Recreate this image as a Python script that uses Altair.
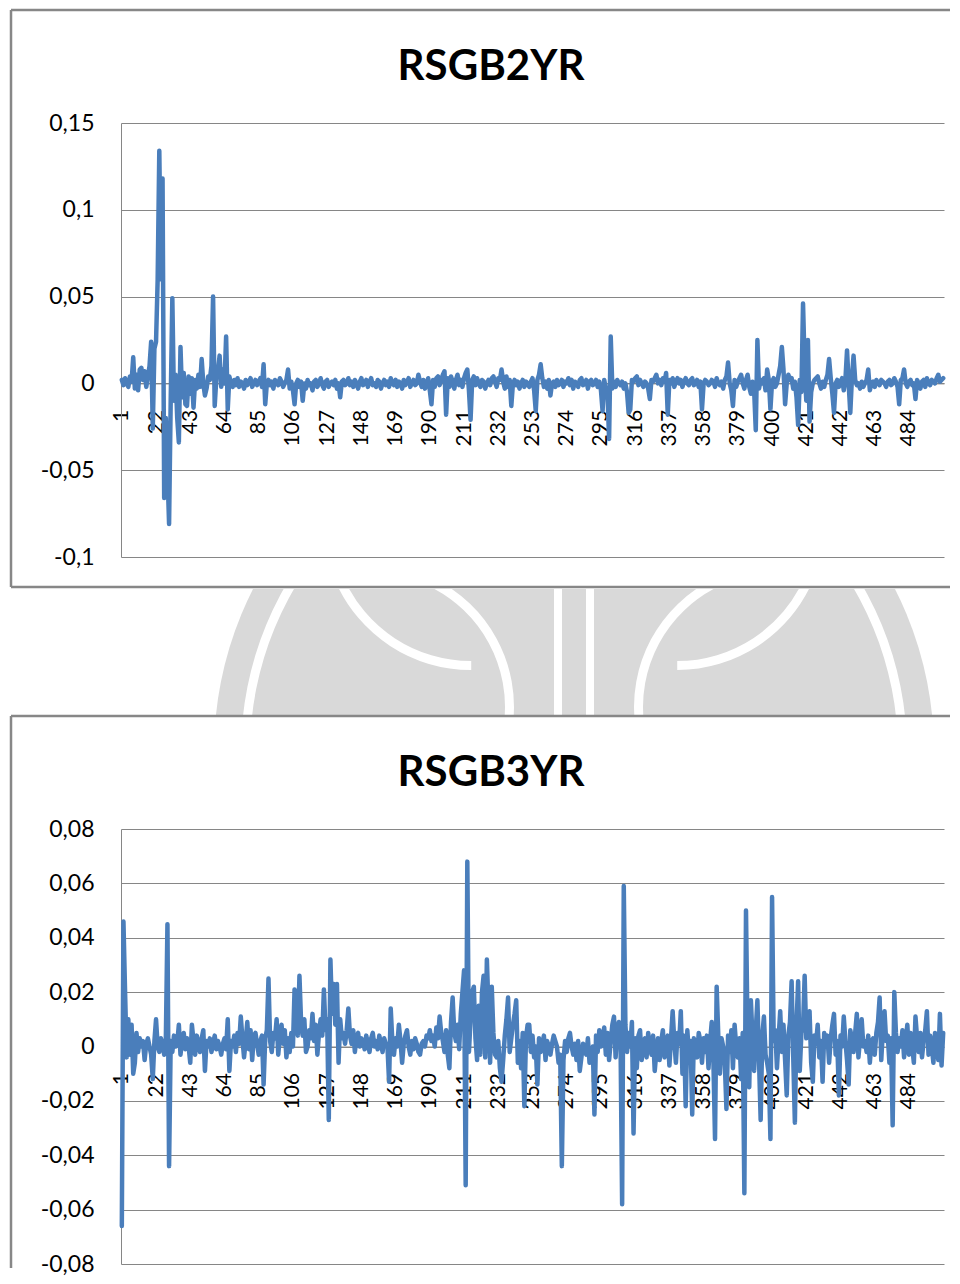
import altair as alt
import pandas as pd

# ---------------- data (values in thousandths) ----------------
RSGB2YR_A = [
    2, -1, 3, 0, -2, 4, 1, 15, -3, 5,
    -4, 8, 9, 2, 7, -2, 4, 10, 24, -26,
    20, 24, 60, 134, 60, 118, -66, -20, -50, -81,
    -10, 49, -10, 5, -20, -34, 21, -8, 6, -12,
    -13, 4, -6, 3, -14, 2, -3, 5, -2, 14,
    0, -7, -3, 4, 2, 10, 50, -13, 3, 7,
    16, -2, 8, 0, 27, -15, 4, 0, -2, 2,
    -1, 3, -2, 1, 0, -3, 2, -1, 1, 3,
    -2, 0, 2, -1, 1, 3, -2, 11, -12, 0,
    2, -1, 1, -3, 2, 0, -1, 3, 1, -2,
]
RSGB2YR_B = [
    0, 2, 8, -3, 1, -4, -12, 0, 2, -2,
    1, -10, 0, -3, 2, -1, 0, -4, 1, 2,
    -2, 0, 3, -1, -3, 1, 2, -2, 0, 1,
    -1, 2, -3, 0, -8, 1, 2, -1, 0, 3,
    -1, 1, -2, 2, 0, -3, 1, 3, -1, 0,
    2, -2, 1, 3, -1, 0, -2, 2, 1, -3,
    0, 2, -1, 1, -2, 3, 0, -1, 2, -2,
    1, 0, -3, 2, -1, 1, 3, -2, 0, 2,
    -1, 0, 5, 1, -2, 2, -3, 0, 3, -4,
    -12, 2, -2, 3, 4, -1, 2, 5, 7, -18,
]
RSGB2YR_C = [
    3, -2, 4, 1, -3, 2, 5, -1, 2, -2,
    3, 6, 8, -4, -21, 2, 4, -1, 3, 0,
    -2, 2, 1, -3, 0, 2, -1, 3, 4, 1,
    -2, 3, 2, 8, 1, -3, 4, -2, 2, -13,
    0, 2, -1, 1, -3, 0, 2, -2, 1, 0,
    -2, 1, 3, -4, -16, 2, 5, 11, 3, -2,
    1, -3, 2, -7, 0, 1, -2, 2, -1, 0,
    2, -2, 1, 0, 3, -1, 2, -3, 1, 0,
    -2, 2, 3, -1, 0, 2, -3, 1, 2, -1,
    0, 2, -2, 1, -4, -16, 2, -3, -5, -32,
]
RSGB2YR_D = [
    27, -3, 1, -2, 2, 0, -1, 1, -3, 0,
    -5, -17, -15, 2, 1, 3, 4, -1, 2, 0,
    -2, 1, 0, -3, -9, 2, 1, 3, 5, 0,
    2, -1, 3, 1, 6, -18, 2, 0, 3, -2,
    1, 3, 0, 2, -2, 1, 3, 0, -1, 2,
    3, -1, 0, 2, -2, 1, -15, 0, 2, 1,
    -1, 0, 2, 1, -2, 3, 0, -1, 1, -3,
    2, 4, 12, 0, -4, -13, 2, -2, 1, 3,
    5, 0, -3, 2, 5, -2, -6, 1, -4, -27,
    25, -3, 2, 0, 3, -4, 8, 2, -15, 1,
]
RSGB2YR_E = [
    3, -2, 0, 5, 10, 21, 8, -12, 0, 5,
    2, 3, -3, 1, -8, -24, 2, -5, 46, 10,
    -10, 25, -22, -5, 0, 2, 3, 4, 0, -3,
    1, -2, 2, 5, 14, 3, -6, -17, 0, 2,
    -2, 1, 3, -4, 2, 19, 0, -17, 3, 16,
    2, -1, 0, -3, 1, -2, 0, 2, 8, -4,
    0, 1, -2, 2, 0, -1, 2, 1, 0, -2,
    1, 2, -1, 0, 3, 1, -2, -12, 2, 3,
    8, 0, -2, 1, 2, -1, 0, -9, 2, 0,
    -3, 1, 2, -2, 3, 0, -1, 2, 1, 0,
    3, 5, 1, 2, 3,
]

RSGB3YR_A = [
    -66, 46, 20, -4, 10, -3, 8, -10, -6, 5,
    -2, 3, 0, 2, -5, 1, 3, 0, -3, -12,
    2, 10, 0, -2, 3, 1, -3, 2, 45, -44,
    2, -2, 4, 0, 1, 8, -3, 2, 5, -1,
    3, 0, -6, 8, 2, -3, 4, 1, -2, 3,
    6, -9, 2, 0, 3, -2, 1, 4, -1, 2,
    0, -3, 1, 3, -1, 10, -9, 2, 0, 4,
    -2, 5, 1, 11, 3, -4, 2, 9, -1, 6,
    -5, 4, 5, 1, -3, 2, 4, -14, 3, 6,
    25, 2, -2, 5, 3, 10, -3, 4, 8, 1,
]
RSGB3YR_B = [
    6, -4, 3, -2, 5, 0, 21, 12, 4, 26,
    9, 4, 10, -2, 0, 6, 3, 12, 2, 8,
    -3, 5, 10, 4, 21, 6, 10, -27, 32, 12,
    23, 8, 23, -6, 10, 3, 5, 1, 6, 14,
    4, 1, 6, -2, 3, 5, 0, 3, 2, -1,
    4, 1, -2, 3, 5, 0, 2, -1, 4, 1,
    -2, 3, 1, 0, -13, 14, 2, -3, 3, 0,
    8, 2, -6, 1, 4, 6, 0, -3, 2, -1,
    3, 1, -2, -3, 1, 2, 0, 4, 3, 6,
    2, 4, 0, 7, 3, 11, 5, 2, -2, 6,
]
RSGB3YR_C = [
    -3, -8, 9, 18, 5, 2, 8, -1, 12, 20,
    28, -51, 68, -2, 10, 20, 22, 3, -5, 15,
    -3, 20, 26, -4, 32, 14, -6, 22, 5, -3,
    -4, 2, -8, -13, -5, 4, 10, 18, -2, 3,
    8, 12, 17, -6, 2, -8, 5, -22, 3, 8,
    8, -2, 4, -4, 0, -14, 3, -2, 1, 4,
    -5, 2, 0, -3, 1, 4, 2, 0, -6, -3,
    -44, -5, 2, -2, 3, 5, 0, -3, 1, -5,
    2, -9, -4, 1, -2, -3, 3, -6, -4, 0,
    -25, 4, -2, 6, 0, 3, 7, -3, 5, -5,
]
RSGB3YR_D = [
    2, 8, 11, -4, 6, 9, 3, -58, 59, 8,
    -2, 5, 0, 9, -32, 3, -8, 4, 6, -5,
    2, 3, -4, 5, 0, -3, 4, -9, -2, 3,
    -5, 2, 6, -4, 0, 4, -7, 3, 13, 2,
    -6, 5, 1, 13, -10, 4, -22, 6, -3, 2,
    -25, 3, 0, -4, 5, 2, -6, 3, -2, 4,
    -8, 2, 9, -5, -34, 22, 4, -10, 3, 0,
    -6, -23, 4, -2, 6, -8, 8, 0, -4, 3,
    -12, 5, -54, 50, 2, -15, 17, 3, -9, 6,
    17, -5, -27, 4, 11, -3, -6, -10, -34, 55,
]
RSGB3YR_E = [
    2, 6, -8, 3, 13, -2, 8, -5, -18, 4,
    9, 24, -4, -28, 8, 24, -9, 5, 7, 26,
    3, 10, 13, -6, -13, 4, 1, 8, -4, 2,
    -13, 5, 0, 4, -6, 3, 8, 12, -3, 2,
    -18, 4, 0, 11, 2, -5, -14, 6, 3, -2,
    5, 12, -4, 3, 10, 0, 2, -2, 4, -6,
    2, 3, -3, 5, 9, 18, -5, 6, 13, 2,
    4, -6, 3, -29, 20, 5, -2, 3, 0, 6,
    -4, 2, 8, -3, 5, 0, -6, 11, 3, -2,
    5, -4, 2, 6, 13, -3, 4, 0, -6, 5,
    2, -5, 12, -7, 5,
]

X_TICKS = [1, 22, 43, 64, 85, 106, 127, 148, 169, 190, 211, 232,
           253, 274, 295, 316, 337, 358, 379, 400, 421, 442, 463, 484]
Y_TICKS_2YR = [-0.1, -0.05, 0, 0.05, 0.1, 0.15]
Y_TICKS_3YR = [-0.08, -0.06, -0.04, -0.02, 0, 0.02, 0.04, 0.06, 0.08]

TITLES = ["RSGB2YR", "RSGB3YR"]

# ---------------- styling ----------------
LINE_COLOR = "#4A7EBB"
GRID_COLOR = "#868686"
FRAME_COLOR = "#878787"
MARK_GRAY = "#D9D9D9"
FONT = "Lato"
PLOT_W = 823
FRAME_RIGHT = 829
GAP = 32          # vconcat spacing
WM_VISIBLE = 127  # visible height of the background emblem strip
WM_H = 208        # height of the emblem strip panel
LABEL_EXPR = "replace(replace(format(datum.value, '.2~f'), '.', ','), '\u2212', '-')"

ONE = pd.DataFrame({"k": [0]})


def panel(values, title, yticks, height, frame_bottom, closed):
    n = len(values)
    df = pd.DataFrame({"idx": list(range(1, n + 1)),
                       "val": [v / 1000 for v in values]})
    ymin, ymax = yticks[0], yticks[-1]
    zero_offset = -height * (0 - ymin) / (ymax - ymin)

    line = alt.Chart(df).mark_line(
        color=LINE_COLOR, strokeWidth=4.5, strokeJoin="round", strokeCap="round"
    ).encode(
        x=alt.X("idx:Q",
                scale=alt.Scale(domain=[0.5, n + 0.5], nice=False, zero=False),
                axis=alt.Axis(values=X_TICKS, labelAngle=270, ticks=False, grid=False,
                              domain=True, domainColor=GRID_COLOR, domainWidth=1,
                              labelPadding=26, offset=zero_offset, title=None,
                              labelFont=FONT, labelFontSize=21, labelColor="black",
                              labelOverlap=False, labelFlush=False)),
        y=alt.Y("val:Q",
                scale=alt.Scale(domain=[ymin, ymax], nice=False, zero=False),
                axis=alt.Axis(values=yticks, grid=True, gridColor=GRID_COLOR,
                              gridWidth=1, gridOpacity=1, ticks=False,
                              domainColor=GRID_COLOR, domainWidth=1,
                              labelExpr=LABEL_EXPR, labelPadding=27, title=None,
                              labelFont=FONT, labelFontSize=23, labelColor="black")),
    )

    tdf = pd.DataFrame({"t": [title]})
    rule = alt.Chart(ONE).mark_rule(color=FRAME_COLOR, strokeWidth=2.5)
    frame = [
        rule.encode(x=alt.value(-110), y=alt.value(-113), y2=alt.value(frame_bottom)),
        rule.encode(x=alt.value(-110), x2=alt.value(FRAME_RIGHT), y=alt.value(-113)),
    ]
    if closed:
        frame.append(rule.encode(x=alt.value(-110), x2=alt.value(FRAME_RIGHT),
                                 y=alt.value(frame_bottom)))

    title_mark = alt.Chart(tdf).mark_text(
        font=FONT, fontSize=42, fontWeight="bold", align="center",
        baseline="alphabetic", color="black"
    ).encode(x=alt.value(370), y=alt.value(-43), text="t:N")

    return alt.layer(*frame, line, title_mark).properties(width=PLOT_W, height=height)


def watermark():
    # faint background emblem visible between the two chart boxes (decoration)
    base = alt.Chart(ONE)
    cy = 163
    layers = [
        base.mark_arc(clip=True, radius=360, radius2=0, theta=0, theta2=6.2832,
                      color=MARK_GRAY).encode(x=alt.value(453), y=alt.value(cy)),
        base.mark_arc(clip=True, radius=333, radius2=324, theta=0, theta2=6.2832,
                      color="white").encode(x=alt.value(453), y=alt.value(cy)),
        base.mark_arc(clip=True, radius=148, radius2=139, theta=3.14, theta2=4.3,
                      color="white").encode(x=alt.value(350), y=alt.value(-67)),
        base.mark_arc(clip=True, radius=148, radius2=139, theta=1.98, theta2=3.14,
                      color="white").encode(x=alt.value(556), y=alt.value(-67)),
        base.mark_arc(clip=True, radius=143, radius2=134, theta=0.45, theta2=1.7,
                      color="white").encode(x=alt.value(250), y=alt.value(118)),
        base.mark_arc(clip=True, radius=143, radius2=134, theta=4.58, theta2=5.83,
                      color="white").encode(x=alt.value(656), y=alt.value(118)),
        base.mark_rect(clip=True, color="white").encode(
            x=alt.value(433), x2=alt.value(441), y=alt.value(0), y2=alt.value(WM_VISIBLE)),
        base.mark_rect(clip=True, color="white").encode(
            x=alt.value(465), x2=alt.value(473), y=alt.value(0), y2=alt.value(WM_VISIBLE)),
        # blank out the part of the strip that lies inside the lower chart box
        base.mark_rect(clip=True, color="white").encode(
            x=alt.value(0), x2=alt.value(PLOT_W), y=alt.value(WM_VISIBLE), y2=alt.value(WM_H)),
    ]
    return alt.layer(*layers).properties(width=PLOT_W, height=WM_H)


p1 = panel(RSGB2YR_A + RSGB2YR_B + RSGB2YR_C + RSGB2YR_D + RSGB2YR_E,
           TITLES[0], Y_TICKS_2YR, 434, 464, True)
p2 = panel(RSGB3YR_A + RSGB3YR_B + RSGB3YR_C + RSGB3YR_D + RSGB3YR_E,
           TITLES[1], Y_TICKS_3YR, 435, 439, False)
wm = watermark()

chart = alt.vconcat(p1, wm, p2, spacing=GAP, bounds="flush").properties(
    padding={"left": 1, "top": 0, "right": 0, "bottom": 0},
    background="white",
).configure_view(stroke=None)

chart.save("out.html", embed_options={"renderer": "svg", "actions": False})
